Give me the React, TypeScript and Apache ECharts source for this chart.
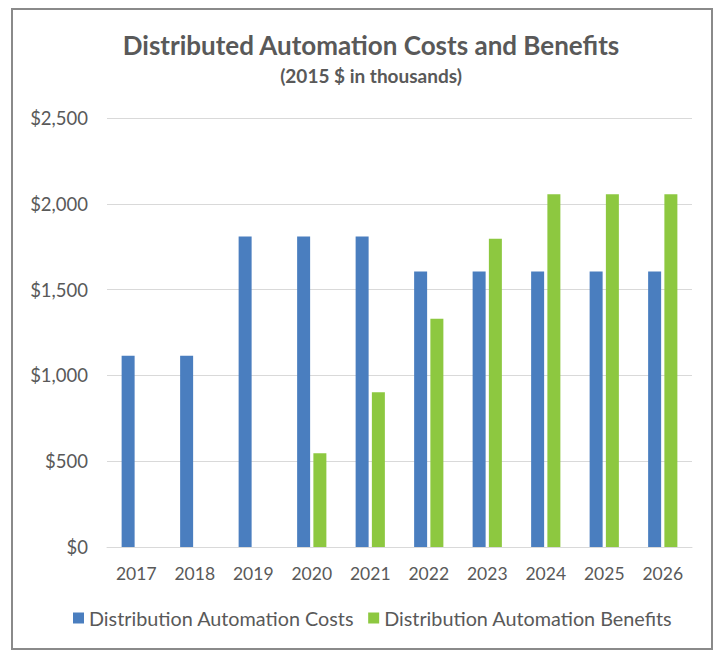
import React, { useEffect, useRef } from "react";
import * as echarts from "echarts";

const years = ["2017", "2018", "2019", "2020", "2021", "2022", "2023", "2024", "2025", "2026"];
const costs = [1115, 1115, 1810, 1810, 1810, 1605, 1605, 1605, 1605, 1605];
const benefits = [null, null, null, 546, 902, 1330, 1796, 2056, 2056, 2056];
const costsName = "Distribution Automation Costs";
const benefitsName = "Distribution Automation Benefits";
const titleText = "Distributed Automation Costs and Benefits";
const subtitleText = "(2015 $ in thousands)";

const FONT = "Lato, 'Open Sans', sans-serif";
const GRAY = "#595959";

export default function App() {
  const ref = useRef<HTMLDivElement>(null);
  useEffect(() => {
    if (!ref.current) return;
    const chart = echarts.init(ref.current, undefined, { renderer: "svg" });
    chart.setOption({
      animation: false,
      backgroundColor: "#ffffff",
      textStyle: { fontFamily: FONT },
      title: {
        text: titleText,
        subtext: subtitleText,
        left: 366,
        textAlign: "center",
        top: 27,
        itemGap: 8,
        textStyle: { fontFamily: FONT, fontSize: 26, fontWeight: "bold", color: GRAY },
        subtextStyle: { fontFamily: FONT, fontSize: 19, fontWeight: "bold", color: GRAY },
      },
      graphic: [
        {
          type: "rect",
          shape: { x: 12, y: 9, width: 700, height: 640 },
          style: { fill: "none", stroke: "#8a8a8a", lineWidth: 2 },
          silent: true,
        },
      ],
      legend: {
        bottom: 21,
        left: 68,
        itemWidth: 11,
        itemHeight: 11,
        itemGap: 14,
        icon: "rect",
        textStyle: { fontFamily: FONT, fontSize: 19.8, color: GRAY },
        data: [costsName, benefitsName],
      },
      grid: { left: 107, right: 25, top: 118, bottom: 107, containLabel: false },
      xAxis: {
        type: "category",
        data: years,
        axisLine: { lineStyle: { color: "#d9d9d9", width: 1 } },
        axisTick: { show: false },
        axisLabel: { fontFamily: FONT, fontSize: 17.5, color: GRAY, margin: 17 },
      },
      yAxis: {
        type: "value",
        min: 0,
        max: 2500,
        interval: 500,
        axisLine: { show: false },
        axisTick: { show: false },
        splitLine: { lineStyle: { color: "#d9d9d9", width: 1 } },
        axisLabel: {
          fontFamily: FONT,
          fontSize: 18.5,
          color: GRAY,
          margin: 19,
          formatter: (v: number) => "$" + v.toLocaleString("en-US"),
        },
      },
      series: [
        {
          name: costsName,
          type: "bar",
          data: costs,
          barWidth: 13,
          barGap: "25%",
          itemStyle: { color: "#4a7ebf" },
        },
        {
          name: benefitsName,
          type: "bar",
          data: benefits,
          barWidth: 13,
          itemStyle: { color: "#8dc840" },
        },
      ],
    });
    return () => chart.dispose();
  }, []);
  return (
    <div
      ref={ref}
      style={{ position: "absolute", left: 0, top: 0, width: 717, height: 654 }}
    />
  );
}
